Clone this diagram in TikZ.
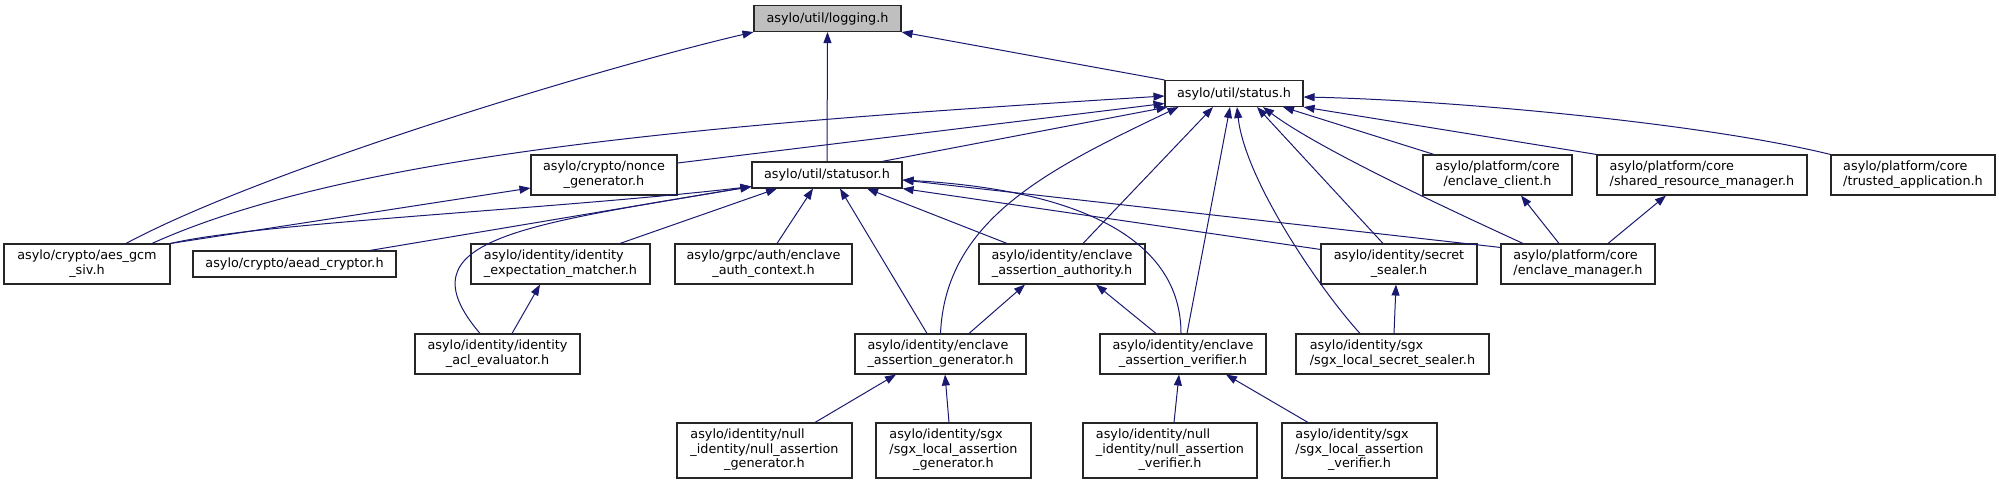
\documentclass[tikz,border=0pt]{standalone}
\usepackage{fontspec}
\setmainfont{DejaVu Sans}
\usetikzlibrary{arrows.meta}
\definecolor{depblue}{HTML}{191970}
\definecolor{rootgray}{HTML}{BFBFBF}
\newcommand{\twoline}[2]{\begin{tabular}{@{}l@{}}#1\\\multicolumn{1}{@{}c@{}}{#2}\end{tabular}}
\newcommand{\threeline}[3]{\begin{tabular}{@{}l@{}}#1\\#2\\\multicolumn{1}{@{}c@{}}{#3}\end{tabular}}
\tikzset{
    file/.style={draw=black!85,line width=1.1pt,fill=white,inner sep=0pt,font=\fontsize{12.8}{14.5}\selectfont},
    root/.style={file,fill=rootgray},
    one/.style={minimum height=26pt},
    two/.style={minimum height=40pt},
    three/.style={minimum height=55pt},
    dep/.style={draw=depblue,line width=1pt,-{Triangle[length=11pt,width=8pt]}},
}

\begin{document}
\begin{tikzpicture}[x=1pt,y=-1pt]
    \useasboundingbox (0,0) rectangle (1999,484);

    \node[root,one,minimum width=147pt] (logging) at (827.5,18.5) {asylo/util/logging.h};
    \node[file,one,minimum width=138pt] (status) at (1234,93.5) {asylo/util/status.h};

    \node[file,two,minimum width=146pt] (nonce) at (604,175) {\twoline{asylo/crypto/nonce}{\_generator.h}};
    \node[file,one,minimum width=150pt] (statusor) at (827,175) {asylo/util/statusor.h};
    \node[file,two,minimum width=149pt] (encclient) at (1497.5,175) {\twoline{asylo/platform/core}{/enclave\_client.h}};
    \node[file,two,minimum width=210pt] (sharedmgr) at (1702,175) {\twoline{asylo/platform/core}{/shared\_resource\_manager.h}};
    \node[file,two,minimum width=164pt] (trustedapp) at (1913,175) {\twoline{asylo/platform/core}{/trusted\_application.h}};

    \node[file,two,minimum width=166pt] (aesgcm) at (87,264) {\twoline{asylo/crypto/aes\_gcm}{\_siv.h}};
    \node[file,one,minimum width=203pt] (aead) at (294.5,264) {asylo/crypto/aead\_cryptor.h};
    \node[file,two,minimum width=179pt] (idmatcher) at (560.5,264) {\twoline{asylo/identity/identity}{\_expectation\_matcher.h}};
    \node[file,two,minimum width=177pt] (authctx) at (763.5,264) {\twoline{asylo/grpc/auth/enclave}{\_auth\_context.h}};
    \node[file,two,minimum width=166pt] (authority) at (1062,264) {\twoline{asylo/identity/enclave}{\_assertion\_authority.h}};
    \node[file,two,minimum width=156pt] (secretsealer) at (1399,264) {\twoline{asylo/identity/secret}{\_sealer.h}};
    \node[file,two,minimum width=154pt] (encmanager) at (1578,264) {\twoline{asylo/platform/core}{/enclave\_manager.h}};

    \node[file,two,minimum width=165pt] (aclevaluator) at (497.5,354) {\twoline{asylo/identity/identity}{\_acl\_evaluator.h}};
    \node[file,two,minimum width=171pt] (assertgen) at (940.5,354) {\twoline{asylo/identity/enclave}{\_assertion\_generator.h}};
    \node[file,two,minimum width=166pt] (assertver) at (1183,354) {\twoline{asylo/identity/enclave}{\_assertion\_verifier.h}};
    \node[file,two,minimum width=193pt] (sgxsealer) at (1392.5,354) {\twoline{asylo/identity/sgx}{/sgx\_local\_secret\_sealer.h}};

    \node[file,three,minimum width=175pt] (nullgen) at (764.5,450.5) {\threeline{asylo/identity/null}{\_identity/null\_assertion}{\_generator.h}};
    \node[file,three,minimum width=155pt] (sgxgen) at (953.5,450.5) {\threeline{asylo/identity/sgx}{/sgx\_local\_assertion}{\_generator.h}};
    \node[file,three,minimum width=174pt] (nullver) at (1170,450.5) {\threeline{asylo/identity/null}{\_identity/null\_assertion}{\_verifier.h}};
    \node[file,three,minimum width=155pt] (sgxver) at (1359.5,450.5) {\threeline{asylo/identity/sgx}{/sgx\_local\_assertion}{\_verifier.h}};

    % includes of logging.h
    \draw[dep] ([xshift=39pt]aesgcm.north) .. controls +(140,-75) and +(-150,35) .. (logging.south west);
    \draw[dep] (statusor.north) -- (logging.south);
    \draw[dep] (status.north west) -- (logging.south east);

    % includes of status.h
    \draw[dep] ([xshift=65pt]aesgcm.north) .. controls +(210,-95) and +(-400,25) .. ([yshift=-2.5pt]status.west);
    \draw[dep] ([yshift=12pt]nonce.east) -- ([yshift=-10pt]status.west);
    \draw[dep] ([xshift=55pt]statusor.north) -- ([xshift=3pt]status.south west);
    \draw[dep] (assertgen.north) .. controls +(5,-114) and +(-130,62) .. ([xshift=14pt]status.south west);
    \draw[dep] ([xshift=21pt]authority.north) -- ([xshift=-21pt]status.south);
    \draw[dep] ([xshift=4pt]assertver.north) -- ([xshift=-4pt]status.south);
    \draw[dep] ([xshift=-32.5pt]sgxsealer.north) .. controls +(-40,-44) and +(8,73) .. ([xshift=3pt]status.south);
    \draw[dep] ([xshift=-16pt]secretsealer.north) -- ([xshift=23pt]status.south);
    \draw[dep] ([xshift=-55pt]encmanager.north) .. controls +(-63,-29) and +(57,43) .. ([xshift=29pt]status.south);
    \draw[dep] ([xshift=-63.5pt]encclient.north) -- ([xshift=49pt]status.south);
    \draw[dep] (sharedmgr.north west) -- (status.south east);
    \draw[dep] (trustedapp.north west) .. controls +(-131,-32) and +(144,3) .. ([yshift=-3.5pt]status.east);

    % includes of statusor.h
    \draw[dep] (aesgcm.north east) .. controls +(90,-21) and +(-200,23) .. ([yshift=2pt]statusor.south west);
    \draw[dep] ([xshift=75.5pt]aead.north) -- ([yshift=2pt]statusor.south west);
    \draw[dep] ([xshift=-17.5pt]aclevaluator.north) .. controls +(-80,-94) and +(-232,39) .. ([yshift=2pt]statusor.south west);
    \draw[dep] ([xshift=59.5pt]idmatcher.north) -- ([xshift=-50pt]statusor.south);
    \draw[dep] ([xshift=13.5pt]authctx.north) -- ([xshift=-14pt]statusor.south);
    \draw[dep] ([xshift=-13.5pt]assertgen.north) -- ([xshift=13pt]statusor.south);
    \draw[dep] ([xshift=-55pt]authority.north) -- ([xshift=40pt]statusor.south);
    \draw[dep] ([xshift=-2pt]assertver.north) .. controls +(0,-94) and +(178,10) .. ([yshift=-5pt]statusor.east);
    \draw[dep] ([yshift=-6pt]secretsealer.north west) -- (statusor.south east);
    \draw[dep] ([yshift=-4pt]encmanager.north west) -- ([yshift=-5pt]statusor.east);

    % the rest
    \draw[dep] (aesgcm.north east) -- ([yshift=-13pt]nonce.west);
    \draw[dep] ([xshift=14.5pt]aclevaluator.north) -- ([xshift=-20.5pt]idmatcher.south);
    \draw[dep] ([xshift=28.5pt]assertgen.north) -- ([xshift=-37pt]authority.south);
    \draw[dep] ([xshift=-27pt]assertver.north) -- ([xshift=34pt]authority.south);
    \draw[dep] ([xshift=1.5pt]sgxsealer.north) -- ([xshift=-3pt]secretsealer.south);
    \draw[dep] ([xshift=-19pt]encmanager.north) -- ([xshift=23.5pt]encclient.south);
    \draw[dep] ([xshift=30pt]encmanager.north) -- ([xshift=-36pt]sharedmgr.south);
    \draw[dep] ([xshift=50.5pt]nullgen.north) -- ([xshift=-44.5pt]assertgen.south);
    \draw[dep] ([xshift=-4.5pt]sgxgen.north) -- ([xshift=4.5pt]assertgen.south);
    \draw[dep] ([xshift=4pt]nullver.north) -- ([xshift=-4pt]assertver.south);
    \draw[dep] ([xshift=-51.5pt]sgxver.north) -- ([xshift=43pt]assertver.south);
\end{tikzpicture}
\end{document}
